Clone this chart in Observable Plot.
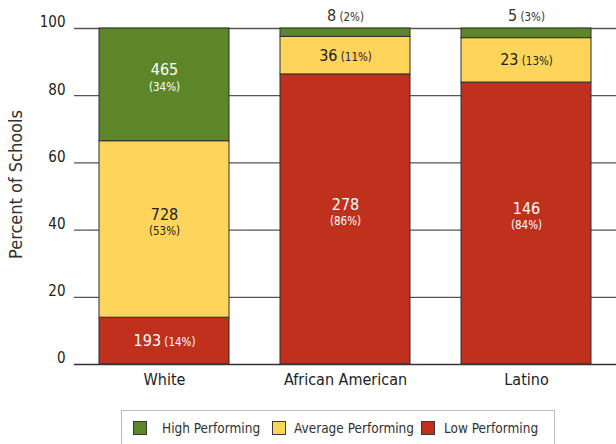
<!DOCTYPE html>
<html>
<head>
<meta charset="utf-8">
<script src="https://cdn.jsdelivr.net/npm/d3@7"></script>
<script src="https://cdn.jsdelivr.net/npm/@observablehq/plot@0.6"></script>
<style>
  html, body { margin: 0; padding: 0; background: #fff; }
  #wrap { position: relative; width: 616px; height: 444px; overflow: hidden; font-family: "DejaVu Sans Condensed", "Liberation Sans Narrow", "Roboto", sans-serif; }
  #legend { position: absolute; left: 121px; top: 410px; width: 434px; height: 40px; border: 1px solid #bdbdbd; box-sizing: border-box; font-size: 13.5px; color: #333; }
  .sw { position: absolute; top: 10px; width: 12px; height: 12px; border: 1px solid #3a3a3a; }
  .lb { position: absolute; top: 9px; white-space: nowrap; line-height: 16px; }
</style>
</head>
<body>
<div id="wrap"></div>
<script>
const groups = ["White", "African American", "Latino"];
const levels = ["High Performing", "Average Performing", "Low Performing"];
const colors = ["#5c8628", "#fed45a", "#bf311d"];
const highCounts = [465, 8, 5];
const averageCounts = [728, 36, 23];
const lowCounts = [193, 278, 146];
const highPct = [34, 2, 3];
const averagePct = [53, 11, 13];
const lowPct = [14, 86, 84];
const yTicks = [0, 20, 40, 60, 80, 100];
const yTitle = "Percent of Schools";

// legend layout (px offsets inside the legend box)
const legendSwatchLeft = [11, 150, 299];
const legendLabelLeft = [40, 172, 322];

// build a stacked table (bottom to top: low, average, high)
const table = [];
groups.forEach((g, i) => {
  const rows = [
    {level: "Low Performing", count: lowCounts[i], pct: lowPct[i]},
    {level: "Average Performing", count: averageCounts[i], pct: averagePct[i]},
    {level: "High Performing", count: highCounts[i], pct: highPct[i]}
  ];
  const total = d3.sum(rows, r => r.count);
  let acc = 0;
  rows.forEach(r => {
    const share = r.count / total * 100;
    const y1 = acc, y2 = acc + share;
    acc = y2;
    table.push({group: g, level: r.level, count: r.count, pct: r.pct, share, y1, y2, ymid: (y1 + y2) / 2,
      kind: share < 5 ? "above" : share < 20 ? "single" : "double",
      ink: r.level === "Average Performing" ? "dark" : "light"});
  });
});

const font = "\"DejaVu Sans Condensed\", \"Liberation Sans Narrow\", Roboto, sans-serif";
const inkColor = {dark: "#222", light: "#fff"};

const labelMarks = [];
for (const ink of ["dark", "light"]) {
  const dbl = table.filter(d => d.kind === "double" && d.ink === ink);
  const sgl = table.filter(d => d.kind === "single" && d.ink === ink);
  labelMarks.push(
    Plot.text(dbl, {x: "group", y: "ymid", text: d => String(d.count), dy: -15, fontSize: 16, fill: inkColor[ink]}),
    Plot.text(dbl, {x: "group", y: "ymid", text: d => `(${d.pct}%)`, dy: 2, fontSize: 11.5, fill: inkColor[ink]}),
    Plot.text(sgl, {x: "group", y: "ymid", text: d => `${d.count} (${d.pct}%)`, fontSize: 16, fill: inkColor[ink]})
  );
}
labelMarks.push(
  Plot.text(table.filter(d => d.kind === "above"), {x: "group", y: "y2", text: d => `${d.count} (${d.pct}%)`, dy: -13, fontSize: 16, fill: "#333"})
);

const chart = Plot.plot({
  width: 616,
  height: 400,
  marginTop: 28,
  marginBottom: 36,
  marginLeft: 74,
  marginRight: 0,
  style: {fontFamily: font, fontSize: "15px", color: "#222", background: "transparent"},
  x: {domain: groups, paddingInner: 0.282, paddingOuter: 0.138, axis: null},
  y: {domain: [0, 100], axis: null},
  color: {domain: levels, range: colors},
  marks: [
    Plot.ruleY(yTicks.filter(d => d > 0), {stroke: "#555", strokeWidth: 1.3}),
    Plot.barY(table, {x: "group", y1: "y1", y2: "y2", fill: "level", stroke: "#2f2f2f", strokeWidth: 1}),
    Plot.ruleY([0], {stroke: "#333", strokeWidth: 1.6}),
    Plot.text(yTicks, {y: d => d, frameAnchor: "left", textAnchor: "end", dx: -9, dy: -6, fontSize: 15, fill: "#222"}),
    Plot.text(groups, {x: d => d, frameAnchor: "bottom", dy: 20, fontSize: 16, fill: "#222"}),
    Plot.text([yTitle], {frameAnchor: "left", textAnchor: "middle", rotate: -90, dx: -58, dy: -12, fontSize: 18, fill: "#333"}),
    ...labelMarks
  ]
});

// mixed-size single-line labels: count large, percent small
d3.select(chart).selectAll("text").each(function () {
  const m = this.textContent.match(/^(\d+) (\(\d+%\))$/);
  if (m) {
    this.textContent = "";
    d3.select(this).append("tspan").attr("font-size", 16).text(m[1]);
    d3.select(this).append("tspan").attr("font-size", 11.5).text(" " + m[2]);
  }
});

const wrap = document.getElementById("wrap");
wrap.appendChild(chart);

const legend = document.createElement("div");
legend.id = "legend";
levels.forEach((lv, i) => {
  const sw = document.createElement("div");
  sw.className = "sw";
  sw.style.background = colors[i];
  sw.style.left = legendSwatchLeft[i] + "px";
  const label = document.createElement("div");
  label.className = "lb";
  label.style.left = legendLabelLeft[i] + "px";
  label.textContent = lv;
  legend.appendChild(sw);
  legend.appendChild(label);
});
wrap.appendChild(legend);
</script>
</body>
</html>
